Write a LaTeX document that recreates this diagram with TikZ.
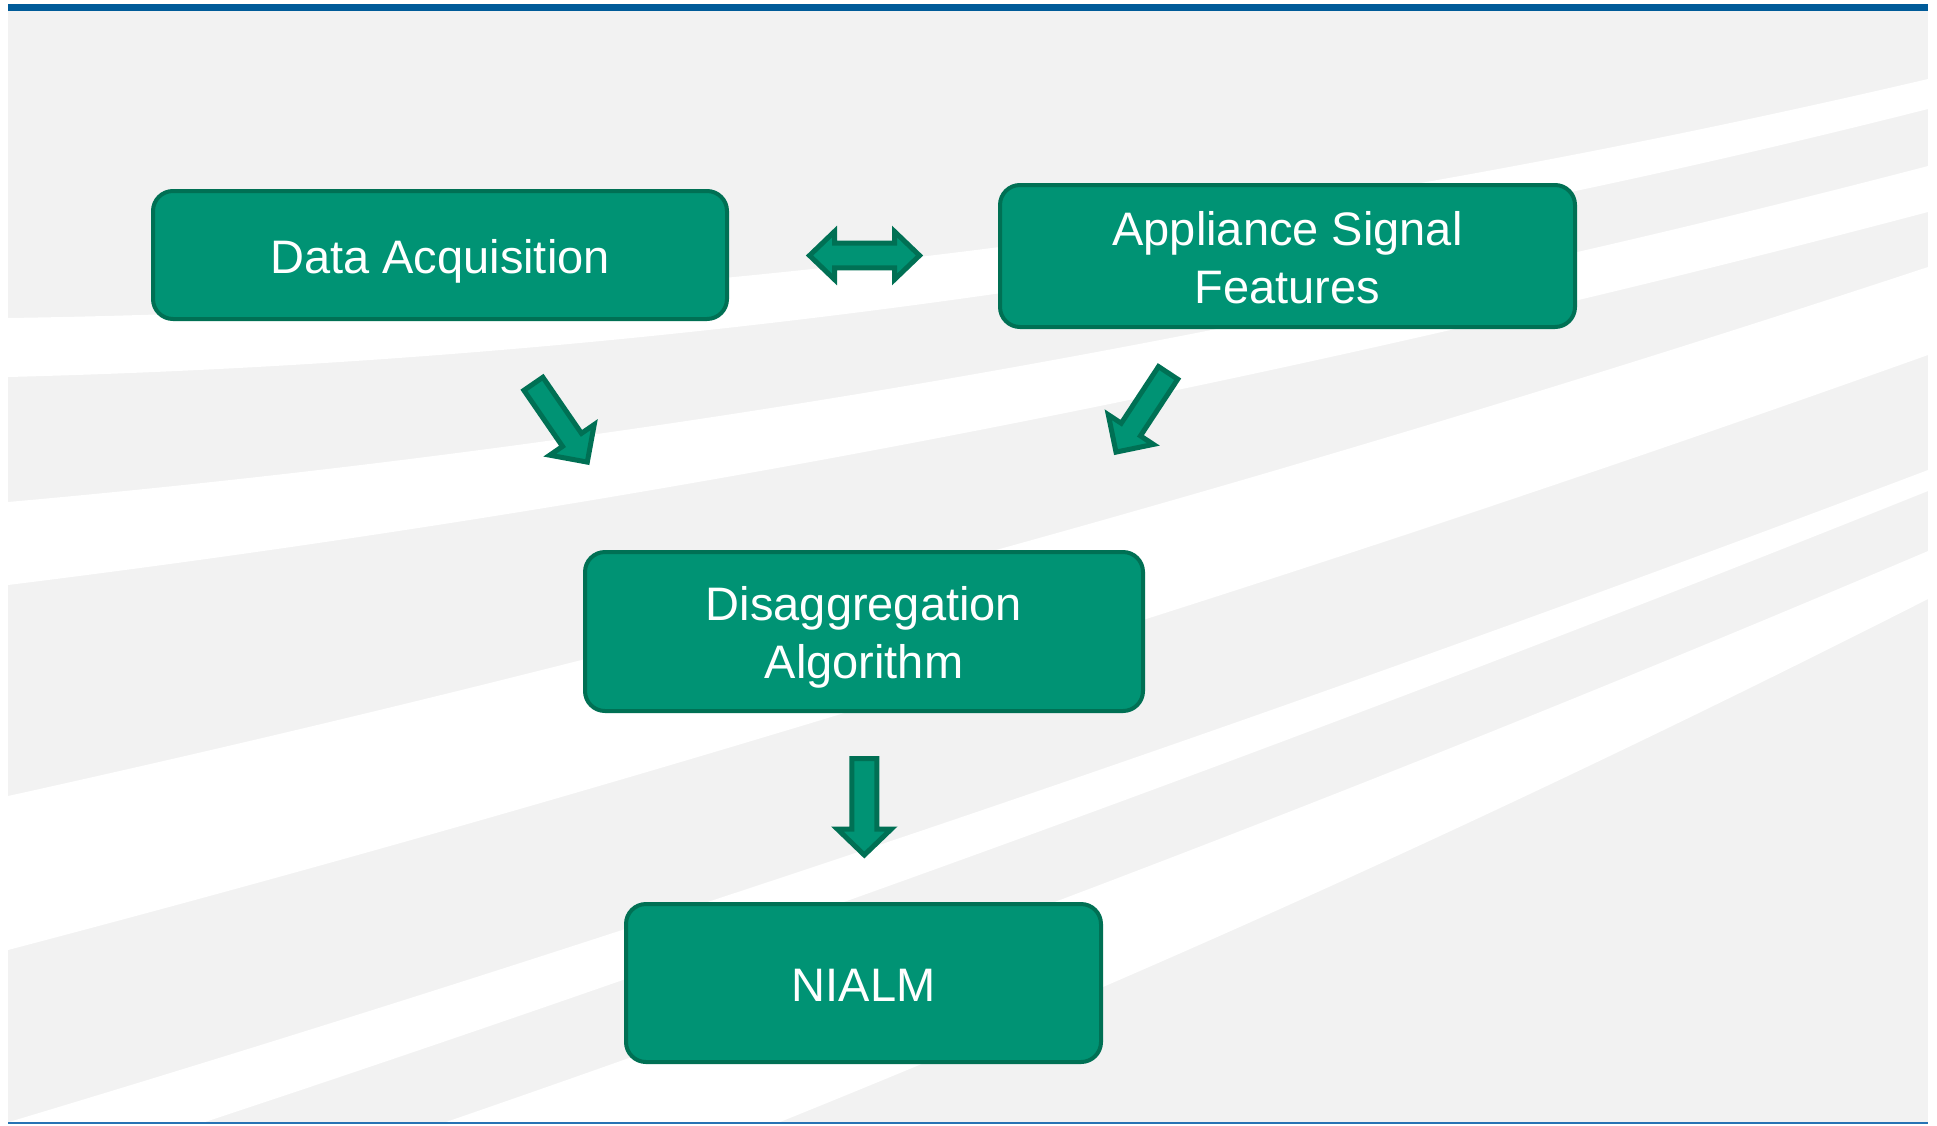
\documentclass[tikz,border=0pt]{standalone}
\usepackage{fontspec}
\setmainfont{Liberation Sans}
\usetikzlibrary{calc}

\definecolor{boxfill}{RGB}{0,147,116}
\definecolor{boxline}{RGB}{0,112,84}
\definecolor{pagegray}{RGB}{242,242,242}
\definecolor{barblue}{RGB}{0,91,153}
\definecolor{ruleblue}{RGB}{40,115,180}

% fixed line box so every label sits at the same height in its box
\newcommand\ls{\rule[-10pt]{0pt}{56pt}}

\tikzset{
  box/.style={draw=boxline, fill=boxfill, line width=4pt, rounded corners=20pt,
    text=white, align=center, inner sep=0pt,
    font=\fontsize{47}{58}\selectfont},
  blk/.style={draw=boxline, fill=boxfill, line width=5pt, line join=miter},
}

% block arrow: tail, tip, shaft half width, head half width, head length
\newcommand\blockarrow[5]{%
  \coordinate (hb) at ($(#2)!#5!(#1)$);
  \path[blk] ($(#1)!#3!90:(#2)$) -- ($(hb)!#3!90:(#2)$) -- ($(hb)!#4!90:(#2)$)
    -- (#2) -- ($(hb)!#4!-90:(#2)$) -- ($(hb)!#3!-90:(#2)$)
    -- ($(#1)!#3!-90:(#2)$) -- cycle;
}
% two-headed block arrow: end, end, shaft half width, head half width, head length
\newcommand\twoheadblock[5]{%
  \coordinate (hl) at ($(#1)!#5!(#2)$);
  \coordinate (hr) at ($(#2)!#5!(#1)$);
  \path[blk] (#1) -- ($(hl)!#4!90:(#2)$) -- ($(hl)!#3!90:(#2)$)
    -- ($(hr)!#3!-90:(#1)$) -- ($(hr)!#4!-90:(#1)$) -- (#2)
    -- ($(hr)!#4!90:(#1)$) -- ($(hr)!#3!90:(#1)$)
    -- ($(hl)!#3!-90:(#2)$) -- ($(hl)!#4!-90:(#2)$) -- cycle;
}

\begin{document}
\begin{tikzpicture}[x=1pt,y=-1pt]
\useasboundingbox (0,0) rectangle (1937,1125);
\fill[white] (0,0) rectangle (1937,1125);

% grey panel with white sweeping bands
\fill[pagegray] (8,11) rectangle (1928,1122);
\begin{scope}
  \clip (8,11) rectangle (1928,1122);
  \fill[white] (8,318) .. controls (648,308.3) and (1288,228.7) .. (1928,79)
    -- (1928,109) .. controls (1288,271.3) and (648,360.7) .. (8,377) -- cycle;
  \fill[white] (8,502) .. controls (648,445) and (1288,333) .. (1928,166)
    -- (1928,212) .. controls (1288,381.3) and (648,505.7) .. (8,585) -- cycle;
  \fill[white] (8,796) .. controls (648,654.7) and (1288,478.3) .. (1928,267)
    -- (1928,355) .. controls (1288,583.3) and (648,781.7) .. (8,950) -- cycle;
  \fill[white] (9,1122) .. controls (648.7,929.7) and (1288.3,712.3) .. (1928,470)
    -- (1928,491) .. controls (1353.7,721.3) and (779.3,931.7) .. (205,1122) -- cycle;
  \fill[white] (446,1122) .. controls (940,951.7) and (1434,761.3) .. (1928,551)
    -- (1928,599) .. controls (1545.3,793.3) and (1162.7,967.7) .. (780,1122) -- cycle;
\end{scope}

% top bar and bottom rule
\fill[barblue] (8,4) rectangle (1928,11);
\draw[ruleblue, line width=2pt] (8,1123) -- (1928,1123);

% process boxes
\node[box, minimum width=574pt, minimum height=128pt] (da) at (440,255) {Data Acquisition\ls};
\node[box, minimum width=575pt, minimum height=142pt] (asf) at (1287.5,256) {Appliance Signal\ls\\Features\ls};
\node[box, minimum width=558pt, minimum height=159pt] (dis) at (864,631.5) {Disaggregation\ls\\Algorithm\ls};
\node[box, minimum width=475pt, minimum height=158pt] (nialm) at (863.5,983) {NIALM\ls};

% connectors
\coordinate (dxl) at (809.5,255.5);
\coordinate (dxr) at (919.5,255.5);
\twoheadblock{dxl}{dxr}{12.3pt}{24pt}{25pt}

\coordinate (a1s) at (533.4,383.8);
\coordinate (a1e) at (587.3,462.1);
\blockarrow{a1s}{a1e}{11.5pt}{27pt}{27pt}

\coordinate (a2s) at (1168.1,372.9);
\coordinate (a2e) at (1116,452.1);
\blockarrow{a2s}{a2e}{11.5pt}{27pt}{27pt}

\coordinate (a3s) at (864.3,758.5);
\coordinate (a3e) at (864.3,855);
\blockarrow{a3s}{a3e}{12.5pt}{27pt}{26pt}
\end{tikzpicture}
\end{document}
